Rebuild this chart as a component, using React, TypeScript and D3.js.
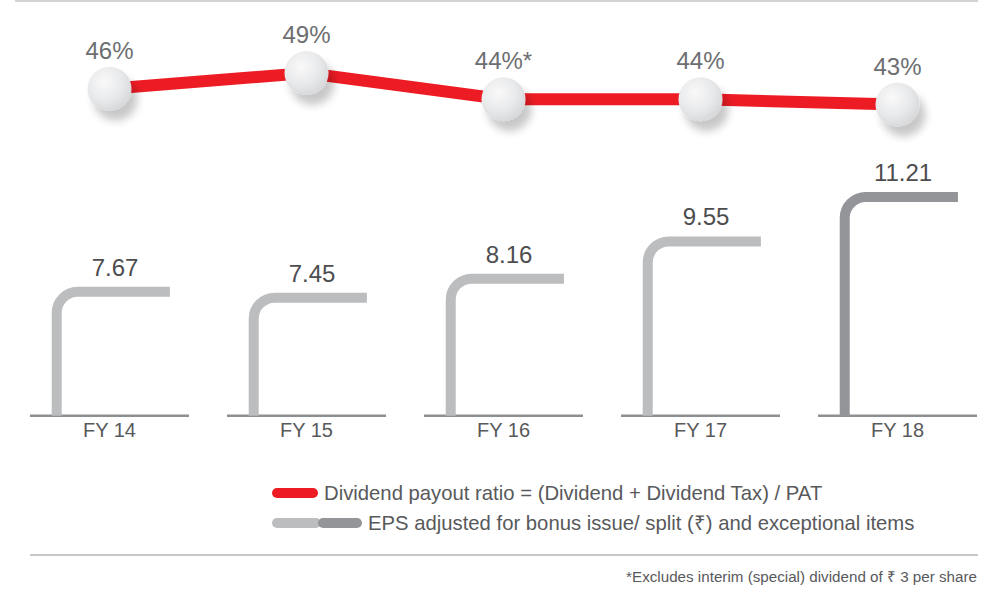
import React from "react";
import * as d3 from "d3";

const categories = ["FY 14", "FY 15", "FY 16", "FY 17", "FY 18"];
const payoutValues = [46, 49, 44, 44, 43];
const payoutLabels = ["46%", "49%", "44%*", "44%", "43%"];
const epsValues = [7.67, 7.45, 8.16, 9.55, 11.21];
const epsLabels = ["7.67", "7.45", "8.16", "9.55", "11.21"];
const epsHighlight = [false, false, false, false, true];
const legendItems = [
  "Dividend payout ratio = (Dividend + Dividend Tax) / PAT",
  "EPS adjusted for bonus issue/ split (₹) and exceptional items",
];
const footnote = "*Excludes interim (special) dividend of ₹ 3 per share";

const W = 995;
const H = 589;
const FONT = "'Liberation Sans', Arial, Helvetica, sans-serif";
const RED = "#ed1c24";
const LIGHT = "#bcbdbf";
const DARK = "#939598";
const BASE_Y = 415.7;

export default function App() {
  const x = d3.scaleBand<string>().domain(categories).range([30, 977]).paddingInner(0.193).paddingOuter(0);
  const bw = x.bandwidth();
  const yBar = d3.scaleLinear().domain([3.04, 11.21]).range([BASE_Y, 197]);
  const yLine = d3.scaleLinear().domain([43, 49]).range([104.5, 73]);

  const cx = (c: string) => (x(c) as number) + bw / 2;
  const linePts: [number, number][] = categories.map((c, i) => [cx(c), yLine(payoutValues[i])]);
  const lineGen = d3.line();

  const barPath = (c: string, v: number) => {
    const x0 = (x(c) as number) + bw * 0.168;
    const x1 = (x(c) as number) + bw * 0.88;
    const yt = yBar(v);
    const r = 21;
    const p = d3.path();
    p.moveTo(x0, BASE_Y);
    p.lineTo(x0, yt + r);
    p.arcTo(x0, yt, x0 + r, yt, r);
    p.lineTo(x1, yt);
    return p.toString();
  };

  return (
    <svg width={W} height={H} style={{ position: "absolute", left: 0, top: 0, background: "#fff" }} fontFamily={FONT}>
      <defs>
        <radialGradient id="ball" cx="0.38" cy="0.35" r="0.75">
          <stop offset="0" stopColor="#f9f9fa" />
          <stop offset="0.55" stopColor="#e8e9ea" />
          <stop offset="1" stopColor="#d2d3d5" />
        </radialGradient>
        <filter id="shadow" x="-50%" y="-50%" width="220%" height="220%">
          <feGaussianBlur in="SourceAlpha" stdDeviation="4" />
          <feOffset dx="6" dy="10" result="b" />
          <feComponentTransfer>
            <feFuncA type="linear" slope="0.22" />
          </feComponentTransfer>
          <feMerge>
            <feMergeNode />
            <feMergeNode in="SourceGraphic" />
          </feMerge>
        </filter>
      </defs>

      <line x1={15} x2={978} y1={1} y2={1} stroke="#c4c4c4" strokeWidth={1.5} />

      {/* EPS bars */}
      {categories.map((c, i) => (
        <g key={c}>
          <line x1={x(c) as number} x2={(x(c) as number) + bw} y1={BASE_Y} y2={BASE_Y} stroke="#8e8f91" strokeWidth={2.6} />
          <path d={barPath(c, epsValues[i])} fill="none" stroke={epsHighlight[i] ? DARK : LIGHT} strokeWidth={10} />
          <text x={(x(c) as number) + 85} y={yBar(epsValues[i]) - 16} textAnchor="middle" fontSize={24} fill="#4d4d4f">
            {epsLabels[i]}
          </text>
          <text x={cx(c)} y={437} textAnchor="middle" fontSize={20} fill="#58595b">
            {c}
          </text>
        </g>
      ))}

      {/* payout line */}
      <path d={lineGen(linePts) as string} fill="none" stroke={RED} strokeWidth={12} />
      {linePts.map(([px, py], i) => (
        <g key={i}>
          <circle cx={px} cy={py} r={22} fill="url(#ball)" filter="url(#shadow)" />
          <text x={px} y={py - 30} textAnchor="middle" fontSize={24} fill="#6d6e71">
            {payoutLabels[i]}
          </text>
        </g>
      ))}

      {/* legend */}
      <line x1={277} x2={313} y1={493} y2={493} stroke={RED} strokeWidth={10} strokeLinecap="round" />
      <text x={324} y={500} fontSize={20.3} fill="#58595b">{legendItems[0]}</text>
      <line x1={277} x2={316} y1={523} y2={523} stroke={LIGHT} strokeWidth={10} strokeLinecap="round" />
      <line x1={323} x2={357} y1={523} y2={523} stroke={DARK} strokeWidth={10} strokeLinecap="round" />
      <text x={368} y={530} fontSize={20.3} fill="#58595b">{legendItems[1]}</text>

      <line x1={30} x2={978} y1={555} y2={555} stroke="#8e8f91" strokeWidth={1.2} />
      <text x={977} y={582} textAnchor="end" fontSize={15.2} fill="#58595b">{footnote}</text>
    </svg>
  );
}
